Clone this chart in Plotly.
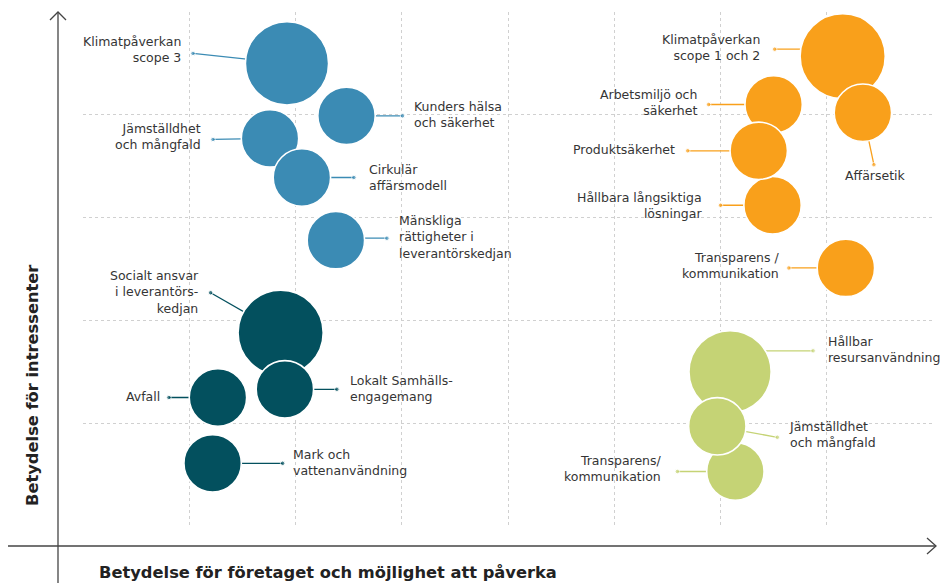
import plotly.graph_objects as go

# ---------------- data ----------------
# Blue group
bla_namn = ["Klimatpåverkan\nscope 3", "Kunders hälsa\noch säkerhet", "Jämställdhet\noch mångfald",
            "Cirkulär\naffärsmodell", "Mänskliga\nrättigheter i\nleverantörskedjan"]
bla_x = [1.92, 2.48, 1.76, 2.06, 2.38]
bla_y = [4.50, 3.99, 3.77, 3.39, 2.78]
bla_vikt = [2.1, 1.0, 1.0, 1.0, 1.0]

# Dark teal group
tea_namn = ["Socialt ansvar\ni leverantörs-\nkedjan", "Avfall", "Mark och\nvattenanvändning",
            "Lokalt Samhälls-\nengagemang"]
tea_x = [1.86, 1.27, 1.22, 1.90]
tea_y = [1.88, 1.25, 0.61, 1.33]
tea_vikt = [2.2, 1.0, 1.0, 1.0]

# Orange group
ora_namn = ["Klimatpåverkan\nscope 1 och 2", "Arbetsmiljö och\nsäkerhet", "Hållbara långsiktiga\nlösningar",
            "Produktsäkerhet", "Affärsetik", "Transparens /\nkommunikation"]
ora_x = [7.15, 6.50, 6.49, 6.36, 7.34, 7.18]
ora_y = [4.57, 4.10, 3.12, 3.65, 4.02, 2.51]
ora_vikt = [2.2, 1.0, 1.0, 1.0, 1.0, 1.0]

# Green group
gro_namn = ["Hållbar\nresursanvändning", "Transparens/\nkommunikation", "Jämställdhet\noch mångfald"]
gro_x = [6.09, 6.14, 5.97]
gro_y = [1.50, 0.53, 0.97]
gro_vikt = [2.05, 1.0, 1.0]

x_titel = "Betydelse för företaget och möjlighet att påverka"
y_titel = "Betydelse för intressenter"

# ---------------- layout helpers (label placement in px) ----------------
W, H = 943, 583
ML, MR, MT, MB = 83, 10, 12, 57
XMAX, YMAX = 8, 5
PX = (W - ML - MR) / XMAX
PY = (H - MT - MB) / YMAX

# (start dx, start dy, dot dx, dot dy, text dx, text dy, anchor) relative to bubble centre, screen px
bla_etik = [(0, 0, -94, -10, -104, -14, "right"),
            (0, 0, 56, 0, 65, -1, "left"),
            (0, 0, -57, 1, -67, -2, "right"),
            (0, 0, 52, 0, 65, 0, "left"),
            (0, -2, 51, -2, 61, -3, "left")]
tea_etik = [(0, 0, -70, -40, -80, -41, "right"),
            (0, 0, -49, 0, -56, -1, "right"),
            (0, 0, 70, 0, 78, -1, "left"),
            (0, 0, 52, 0, 63, -1, "left")]
ora_etik = [(0, -7, -68, -7, -81, -9, "right"),
            (0, 0, -65, 0, -75, -2, "right"),
            (0, 0, -52, 0, -69, 0, "right"),
            (0, 0, -71, 0, -82, -1, "right"),
            (0, 0, 11, 52, 13, 63, "center"),
            (0, 0, -57, 0, -64, -2, "right")]
gro_etik = [(0, -21, 83, -21, 96, -22, "left"),
            (0, 0, -58, 0, -71, -3, "right"),
            (0, 0, 60, 11, 70, 8, "left")]

grupper = [
    (bla_namn, bla_x, bla_y, bla_vikt, bla_etik, "#3B8BB4"),
    (tea_namn, tea_x, tea_y, tea_vikt, tea_etik, "#03505E"),
    (ora_namn, ora_x, ora_y, ora_vikt, ora_etik, "#F9A01B"),
    (gro_namn, gro_x, gro_y, gro_vikt, gro_etik, "#C5D375"),
]

FONT = "DejaVu Sans, Open Sans, sans-serif"
TEXTFARG = "#353535"
SIZEREF = 1 / (2 * 28.7 ** 2)

fig = go.Figure()
annots = []

# leader lines first (drawn under bubbles)
for namn, xs, ys, vs, etik, farg in grupper:
    for n, x, y, e in zip(namn, xs, ys, etik):
        sdx, sdy, ddx, ddy, tdx, tdy, anc = e
        sx, sy = x + sdx / PX, y - sdy / PY
        dx, dy = x + ddx / PX, y - ddy / PY
        fig.add_trace(go.Scatter(x=[sx, dx], y=[sy, dy], mode="lines+markers",
                                 line=dict(color=farg, width=1.3),
                                 marker=dict(size=[0, 4.5], color=farg),
                                 hoverinfo="skip", showlegend=False))
        annots.append(dict(x=x, y=y, xref="x", yref="y", xshift=tdx, yshift=-tdy,
                           text=n.replace("\n", "<br>"), showarrow=False,
                           xanchor=anc, yanchor="middle", align=anc,
                           font=dict(family=FONT, size=12.5, color=TEXTFARG)))

# bubbles
for namn, xs, ys, vs, etik, farg in grupper:
    fig.add_trace(go.Scatter(x=xs, y=ys, mode="markers",
                             marker=dict(size=vs, sizemode="area", sizeref=SIZEREF,
                                         color=farg, opacity=1,
                                         line=dict(color="white", width=1.6)),
                             text=[n.replace("\n", " ") for n in namn],
                             hoverinfo="text", showlegend=False))

def px2paper_x(px):
    return (px - ML) / (W - ML - MR)

def px2paper_y(py):
    return (H - MB - py) / (H - MT - MB)

AX = "#444444"
shapes = [
    dict(type="line", xref="paper", yref="paper", x0=px2paper_x(58), x1=px2paper_x(58),
         y0=px2paper_y(12), y1=px2paper_y(583), line=dict(color=AX, width=1.3)),
    dict(type="line", xref="paper", yref="paper", x0=px2paper_x(8), x1=px2paper_x(936),
         y0=px2paper_y(546), y1=px2paper_y(546), line=dict(color=AX, width=1.3)),
    dict(type="path", xref="paper", yref="paper",
         path=f"M {px2paper_x(50)},{px2paper_y(20)} L {px2paper_x(58)},{px2paper_y(12)} L {px2paper_x(66)},{px2paper_y(20)}",
         line=dict(color=AX, width=1.3)),
    dict(type="path", xref="paper", yref="paper",
         path=f"M {px2paper_x(927)},{px2paper_y(538)} L {px2paper_x(936)},{px2paper_y(546)} L {px2paper_x(927)},{px2paper_y(554)}",
         line=dict(color=AX, width=1.3)),
]

annots.append(dict(x=px2paper_x(328), y=px2paper_y(572), xref="paper", yref="paper",
                   text=x_titel, showarrow=False, xanchor="center", yanchor="middle",
                   font=dict(family=FONT, size=16.3, color="#222222", weight="bold")))
annots.append(dict(x=px2paper_x(32), y=px2paper_y(386), xref="paper", yref="paper",
                   text=y_titel, showarrow=False, xanchor="center", yanchor="middle",
                   textangle=-90,
                   font=dict(family=FONT, size=16.3, color="#222222", weight="bold")))

grid = dict(showgrid=True, gridcolor="#d0d0d0", gridwidth=1, griddash="dot",
            showticklabels=False, ticks="", zeroline=False, showline=False, fixedrange=True)

fig.update_layout(
    width=W, height=H,
    margin=dict(l=ML, r=MR, t=MT, b=MB),
    paper_bgcolor="white", plot_bgcolor="white",
    xaxis=dict(range=[0, XMAX], tickvals=list(range(1, XMAX)), **grid),
    yaxis=dict(range=[0, YMAX], tickvals=list(range(1, YMAX)), **grid),
    shapes=shapes, annotations=annots,
    font=dict(family=FONT),
    hovermode="closest",
)

fig.write_html("out.html", config={"displayModeBar": False},
               post_script="document.body.style.margin='0';")
